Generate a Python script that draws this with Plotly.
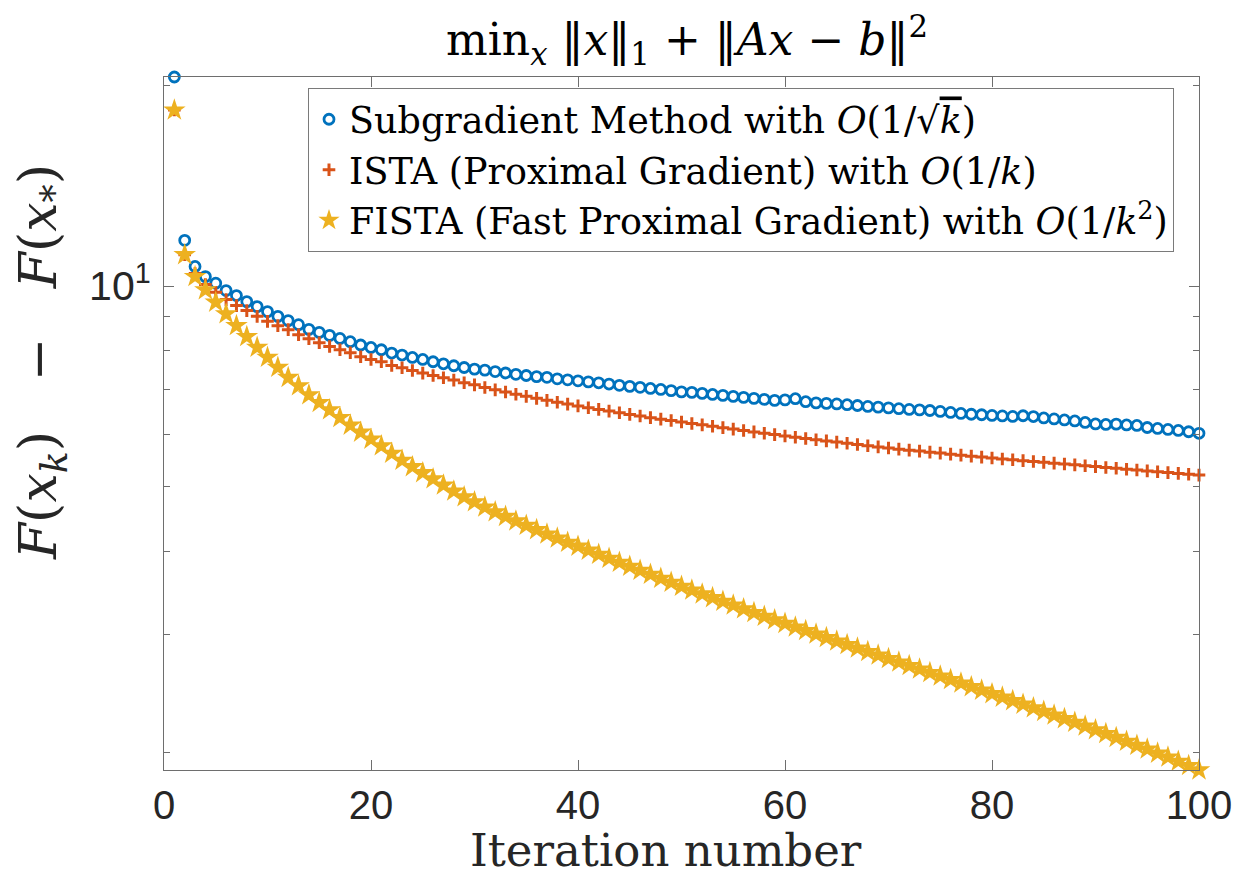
import numpy as np
import plotly.graph_objects as go

iterations = list(range(1, 101))

subgradient = [20.58, 11.71, 10.70, 10.33, 10.10, 9.845, 9.677, 9.477, 9.315, 9.155,
               9.007, 8.874, 8.752, 8.611, 8.522, 8.434, 8.346, 8.252, 8.158, 8.090,
               8.026, 7.935, 7.880, 7.815, 7.761, 7.700, 7.646, 7.594, 7.549, 7.507,
               7.481, 7.443, 7.407, 7.373, 7.343, 7.315, 7.297, 7.259, 7.234, 7.209,
               7.184, 7.160, 7.130, 7.098, 7.073, 7.049, 7.022, 6.998, 6.969, 6.940,
               6.928, 6.904, 6.878, 6.856, 6.833, 6.809, 6.786, 6.762, 6.739, 6.750,
               6.778, 6.708, 6.681, 6.669, 6.657, 6.639, 6.621, 6.600, 6.584, 6.566,
               6.548, 6.532, 6.521, 6.507, 6.487, 6.464, 6.442, 6.424, 6.413, 6.398,
               6.387, 6.376, 6.391, 6.373, 6.342, 6.321, 6.299, 6.277, 6.244, 6.212,
               6.201, 6.208, 6.191, 6.180, 6.137, 6.116, 6.095, 6.074, 6.047, 6.015]

ista = [18.36, 11.14, 10.44, 10.05, 9.788, 9.543, 9.347, 9.187, 9.007, 8.853,
        8.722, 8.602, 8.454, 8.338, 8.223, 8.118, 8.026, 7.943, 7.834, 7.761,
        7.700, 7.601, 7.541, 7.471, 7.404, 7.343, 7.285, 7.227, 7.160, 7.110,
        7.044, 6.988, 6.935, 6.882, 6.833, 6.786, 6.739, 6.694, 6.653, 6.612,
        6.571, 6.532, 6.494, 6.456, 6.420, 6.384, 6.349, 6.316, 6.286, 6.255,
        6.223, 6.193, 6.163, 6.133, 6.103, 6.074, 6.044, 6.017, 5.988, 5.959,
        5.933, 5.908, 5.883, 5.859, 5.835, 5.811, 5.787, 5.763, 5.739, 5.717,
        5.695, 5.675, 5.656, 5.636, 5.617, 5.597, 5.578, 5.559, 5.540, 5.522,
        5.505, 5.490, 5.473, 5.458, 5.441, 5.426, 5.409, 5.394, 5.377, 5.362,
        5.345, 5.331, 5.314, 5.299, 5.283, 5.268, 5.252, 5.237, 5.221, 5.207]

fista = [18.36, 11.14, 10.33, 9.869, 9.455, 9.082, 8.722, 8.396, 8.090, 7.815,
         7.549, 7.292, 7.086, 6.868, 6.688, 6.521, 6.349, 6.184, 6.036, 5.892,
         5.757, 5.613, 5.479, 5.358, 5.248, 5.140, 5.029, 4.926, 4.830, 4.747,
         4.661, 4.585, 4.513, 4.443, 4.376, 4.311, 4.247, 4.187, 4.128, 4.072,
         4.016, 3.960, 3.906, 3.852, 3.799, 3.747, 3.695, 3.645, 3.594, 3.545,
         3.499, 3.453, 3.409, 3.366, 3.323, 3.280, 3.239, 3.197, 3.158, 3.119,
         3.081, 3.044, 3.007, 2.971, 2.935, 2.900, 2.865, 2.831, 2.796, 2.763,
         2.729, 2.697, 2.664, 2.632, 2.600, 2.569, 2.538, 2.507, 2.477, 2.447,
         2.418, 2.389, 2.360, 2.331, 2.302, 2.273, 2.245, 2.217, 2.189, 2.161,
         2.132, 2.104, 2.076, 2.048, 2.021, 1.993, 1.966, 1.938, 1.910, 1.881]

series_names = [
    "Subgradient Method with <i>O</i>(1/√<span style='text-decoration:overline'><i>k</i></span>)",
    "ISTA (Proximal Gradient) with <i>O</i>(1/<i>k</i>)",
    "FISTA (Fast Proximal Gradient) with <i>O</i>(1/<i>k</i><sup>2</sup>)",
]

x_ticks = [0, 20, 40, 60, 80, 100]
y_major_ticks = [10]
y_major_labels = ["10<sup>1</sup>"]
y_minor_ticks = [2, 3, 4, 5, 6, 7, 8, 9, 20]

SERIF = "DejaVu Serif, Liberation Serif, serif"
SANS = "Liberation Sans, Arial, sans-serif"

W, H = 1233, 884
L, T, R, B = 164, 77, 34, 114
plot_w = W - L - R
plot_h = H - T - B

fig = go.Figure()
fig.add_trace(go.Scatter(
    x=iterations, y=subgradient, mode="markers", name=series_names[0],
    marker=dict(symbol="circle-open", size=10, color="#0072BD",
                line=dict(width=2.8, color="#0072BD")),
    cliponaxis=False))
fig.add_trace(go.Scatter(
    x=iterations, y=ista, mode="markers", name=series_names[1],
    marker=dict(symbol="cross-thin-open", size=9, color="#D95319",
                line=dict(width=3, color="#D95319")),
    cliponaxis=False))
fig.add_trace(go.Scatter(
    x=iterations, y=fista, mode="markers", name=series_names[2],
    marker=dict(symbol="star", size=17, color="#EDB120",
                line=dict(width=0)),
    cliponaxis=False))

ymin = float(np.log10(min(fista)))
ymax = float(np.log10(max(subgradient)))

axis_color = "#6e6e6e"
fig.update_layout(
    width=W, height=H,
    margin=dict(l=L, r=R, t=T, b=B, autoexpand=False),
    plot_bgcolor="white", paper_bgcolor="white",
    showlegend=True,
    legend=dict(
        x=(308 - 164) / plot_w, y=1 - (88 - 77) / plot_h,
        xanchor="left", yanchor="top",
        bgcolor="white", bordercolor="#7a7a7a", borderwidth=1,
        font=dict(family=SERIF, size=36.5, color="black"),
        itemsizing="trace", tracegroupgap=0,
    ),
    xaxis=dict(
        range=[0, 100], tickvals=x_ticks, ticktext=[str(v) for v in x_ticks],
        ticks="inside", ticklen=10, tickwidth=1, tickcolor=axis_color,
        showline=True, linecolor=axis_color, linewidth=1.2, mirror="ticks",
        showgrid=False, zeroline=False,
        tickfont=dict(family=SANS, size=40, color="#262626"),
        ticklabelstandoff=0, ticklabeloverflow="allow",
    ),
    yaxis=dict(
        type="log", range=[ymin, ymax],
        tickvals=y_major_ticks, ticktext=y_major_labels,
        ticks="inside", ticklen=10, tickwidth=1, tickcolor=axis_color,
        showline=True, linecolor=axis_color, linewidth=1.2, mirror="ticks",
        showgrid=False, zeroline=False,
        tickfont=dict(family=SANS, size=41, color="#262626"),
        ticklabelstandoff=4, ticklabeloverflow="allow",
        minor=dict(tickvals=y_minor_ticks, ticks="inside", ticklen=6,
                   tickwidth=1, tickcolor=axis_color, showgrid=False),
    ),
    annotations=[
        dict(text="min<sub><i>x</i></sub>&nbsp;‖<i>x</i>‖<sub>1</sub>&nbsp;+&nbsp;‖<i>Ax</i>&nbsp;−&nbsp;<i>b</i>‖<sup>2</sup>",
             x=(687 - 164) / plot_w, y=1 + (77 - 40) / plot_h, xref="paper", yref="paper",
             xanchor="center", yanchor="middle", showarrow=False,
             font=dict(family=SERIF, size=44, color="black")),
        dict(text="Iteration number",
             x=(666 - 164) / plot_w, y=-(850 - 770) / plot_h, xref="paper", yref="paper",
             xanchor="center", yanchor="middle", showarrow=False,
             font=dict(family=SERIF, size=45, color="#262626")),
        dict(text="<i>F</i>(<i>x<sub>k</sub></i>)&nbsp;&nbsp;&nbsp;−&nbsp;&nbsp;&nbsp;<i>F</i>(<i>x</i><sub>*</sub>)",
             x=-(164 - 42) / plot_w, y=(770 - 362) / plot_h, xref="paper", yref="paper",
             xanchor="center", yanchor="middle", showarrow=False, textangle=-90,
             font=dict(family=SERIF, size=52, color="#262626")),
    ],
)

fig.write_html(
    "out.html",
    config={"displayModeBar": False},
    post_script="document.body.style.margin='0';document.body.style.overflow='hidden';",
)
